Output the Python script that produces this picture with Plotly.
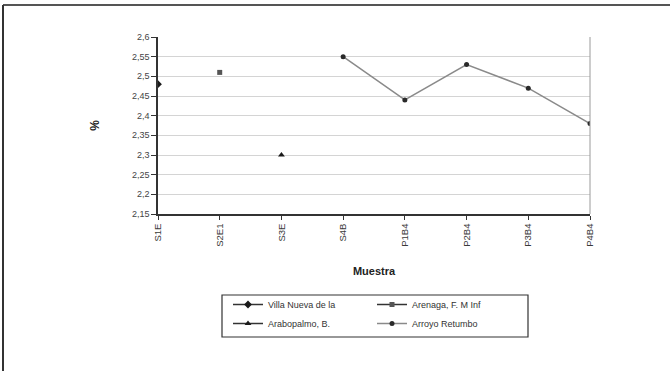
import plotly.graph_objects as go

# Sample codes along the x axis
muestras = ["S1E", "S2E1", "S3E", "S4B", "P1B4", "P2B4", "P3B4", "P4B4"]

# Percentage per sample for each locality
villa_nueva = [2.48, None, None, None, None, None, None, None]
arenaga = [None, 2.51, None, None, None, None, None, None]
arabopalmo = [None, None, 2.30, None, None, None, None, None]
arroyo_retumbo = [None, None, None, 2.55, 2.44, 2.53, 2.47, 2.38]

series_names = ["Villa Nueva de la", "Arenaga, F. M Inf", "Arabopalmo, B.", "Arroyo Retumbo"]

y_ticks = [2.15, 2.2, 2.25, 2.3, 2.35, 2.4, 2.45, 2.5, 2.55, 2.6]
y_tick_text = ["2,15", "2,2", "2,25", "2,3", "2,35", "2,4", "2,45", "2,5", "2,55", "2,6"]

W, H = 670, 371
L, R, T, B = 158, 80, 37, 157
PW, PH = W - L - R, H - T - B


def px(x):
    return (x - L) / PW


def py(y):
    return (H - B - y) / PH


fig = go.Figure()

styles = [
    dict(symbol="diamond", color="#1a1a1a", size=6),
    dict(symbol="square", color="#555555", size=5),
    dict(symbol="triangle-up", color="#1a1a1a", size=6),
    dict(symbol="circle", color="#2a2a2a", size=5),
]
data = [villa_nueva, arenaga, arabopalmo, arroyo_retumbo]
legends = ["legend", "legend2", "legend", "legend2"]

for name, vals, st, lg in zip(series_names, data, styles, legends):
    fig.add_trace(go.Scatter(
        x=muestras, y=vals, name=name, mode="lines+markers",
        connectgaps=False,
        line=dict(color="#8a8a8a" if name == "Arroyo Retumbo" else "#333333", width=1.5),
        marker=dict(symbol=st["symbol"], color=st["color"], size=st["size"]),
        legend=lg,
    ))

legend_style = dict(yanchor="top", xanchor="left", orientation="v",
                    bgcolor="rgba(0,0,0,0)", font=dict(size=9, color="#333333"),
                    tracegroupgap=0, itemwidth=30)

fig.update_layout(
    width=W, height=H,
    margin=dict(l=L, r=R, t=T, b=B),
    paper_bgcolor="white", plot_bgcolor="white",
    font=dict(family="Arial, Liberation Sans, sans-serif", color="#333333", size=9),
    showlegend=True,
    legend=dict(x=px(228), y=py(290), **legend_style),
    legend2=dict(x=px(372), y=py(290), **legend_style),
)

fig.update_xaxes(
    type="category", range=[0, len(muestras) - 1],
    showline=True, linecolor="#333333", linewidth=1.5,
    ticks="outside", ticklen=4, tickcolor="#333333",
    tickangle=-90, tickfont=dict(size=9.5, color="#3a3a3a"),
    showgrid=False, zeroline=False,
    title=dict(text="<b>Muestra</b>", font=dict(size=11, color="#222222"), standoff=22),
)
fig.update_yaxes(
    range=[2.15, 2.6], tickvals=y_ticks, ticktext=y_tick_text,
    showline=True, linecolor="#333333", linewidth=1.5,
    ticks="outside", ticklen=5, tickcolor="#333333",
    tickfont=dict(size=9, color="#444444"),
    showgrid=True, gridcolor="#d4d4d4", gridwidth=1, zeroline=False,
    title=dict(text="<b>%</b>", font=dict(size=12, color="#222222"), standoff=30),
)

shapes = [
    # plot area border on the right
    dict(type="line", xref="paper", yref="paper", x0=1, x1=1, y0=0, y1=1,
         line=dict(color="#9a9a9a", width=1)),
    # legend box
    dict(type="rect", xref="paper", yref="paper",
         x0=px(222), x1=px(528), y0=py(295), y1=py(337),
         line=dict(color="#333333", width=1.2), fillcolor="rgba(0,0,0,0)", layer="below"),
    # outer chart frame (top and left edges)
    dict(type="line", xref="paper", yref="paper",
         x0=px(3), x1=px(670), y0=py(5), y1=py(5),
         line=dict(color="#555555", width=2)),
    dict(type="line", xref="paper", yref="paper",
         x0=px(3), x1=px(3), y0=py(5), y1=py(371),
         line=dict(color="#333333", width=2)),
]
fig.update_layout(shapes=shapes)

fig.write_html("out.html")
